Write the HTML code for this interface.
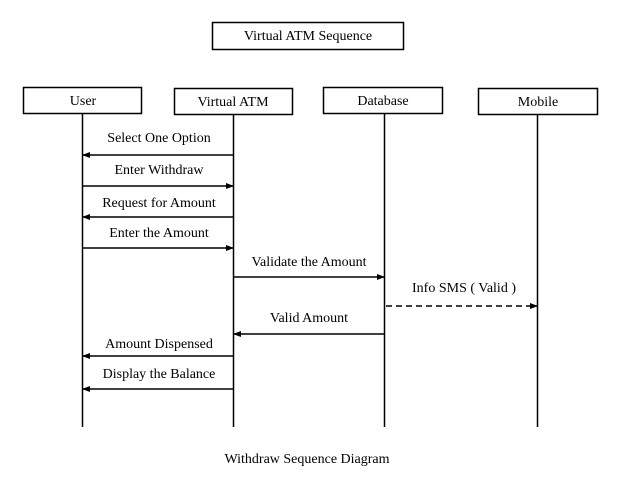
<!DOCTYPE html>
<html><head><style>body{margin:0;background:#fff}</style></head><body>
<svg width="622" height="488" xmlns="http://www.w3.org/2000/svg" font-family="Liberation Serif, serif" font-size="14" fill="#000">
<defs><marker id="a" markerWidth="8" markerHeight="6" refX="7" refY="3" orient="auto" markerUnits="userSpaceOnUse"><path d="M0,0L8,3L0,6z" fill="#000"/></marker></defs>
<g fill="#fff" stroke="#000" stroke-width="1.5">
<rect x="212.5" y="22.5" width="191" height="27"/>
<rect x="23.5" y="87.5" width="118" height="26"/>
<rect x="174.5" y="88.5" width="118" height="26"/>
<rect x="323.5" y="87.5" width="119" height="26"/>
<rect x="478.5" y="88.5" width="119" height="26"/>
</g>
<g text-anchor="middle">
<text x="308" y="40">Virtual ATM Sequence</text>
<text x="83" y="105">User</text>
<text x="233" y="106">Virtual ATM</text>
<text x="383" y="105">Database</text>
<text x="538" y="106">Mobile</text>
<text x="159" y="142">Select One Option</text>
<text x="159" y="174">Enter Withdraw</text>
<text x="159" y="207">Request for Amount</text>
<text x="159" y="237">Enter the Amount</text>
<text x="309" y="266">Validate the Amount</text>
<text x="464" y="292">Info SMS ( Valid )</text>
<text x="309" y="322">Valid Amount</text>
<text x="159" y="348">Amount Dispensed</text>
<text x="159" y="378">Display the Balance</text>
<text x="307" y="463">Withdraw Sequence Diagram</text>
</g>
<g stroke="#000" stroke-width="1.5">
<line x1="82.5" y1="114" x2="82.5" y2="427"/>
<line x1="233.5" y1="115" x2="233.5" y2="427"/>
<line x1="384.5" y1="114" x2="384.5" y2="427"/>
<line x1="537.5" y1="115" x2="537.5" y2="427"/>
<line x1="233" y1="155" x2="83" y2="155" marker-end="url(#a)"/>
<line x1="83" y1="186" x2="233" y2="186" marker-end="url(#a)"/>
<line x1="233" y1="217" x2="83" y2="217" marker-end="url(#a)"/>
<line x1="83" y1="248" x2="233" y2="248" marker-end="url(#a)"/>
<line x1="234" y1="277" x2="384" y2="277" marker-end="url(#a)"/>
<line x1="386" y1="306" x2="537" y2="306" stroke-dasharray="6,4" marker-end="url(#a)"/>
<line x1="384" y1="334" x2="234" y2="334" marker-end="url(#a)"/>
<line x1="233" y1="356" x2="83" y2="356" marker-end="url(#a)"/>
<line x1="233" y1="389" x2="83" y2="389" marker-end="url(#a)"/>
</g>
</svg>
</body></html>
